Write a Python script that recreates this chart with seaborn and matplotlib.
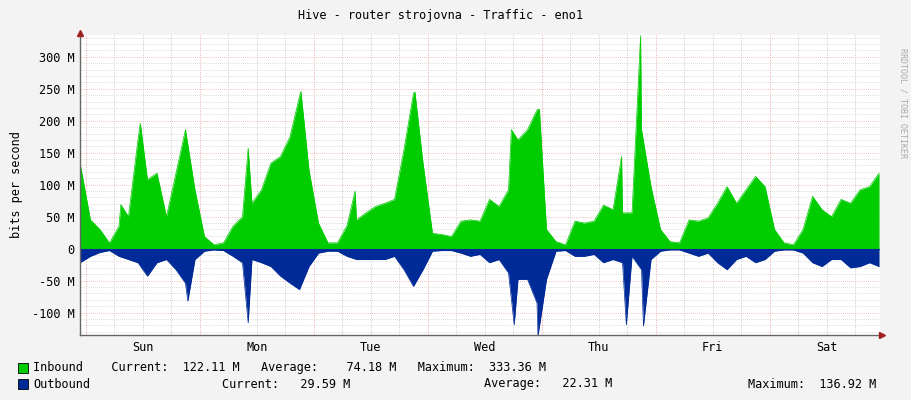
import matplotlib
matplotlib.use("Agg")
import matplotlib.pyplot as plt
import seaborn as sns
import pandas as pd

in_hours = [-1.2, 1, 3, 5, 7, 7.4, 9, 11, 11.5, 13, 15, 17, 19, 21, 23, 25, 27, 29, 31, 33, 34.2, 35, 37, 39, 41, 43, 45, 45.3, 47, 49, 51, 53, 55,
            56.7, 57, 59, 61, 63, 65, 67, 69, 69.3, 71, 73, 75, 77, 79, 81, 83, 85, 87, 89, 89.6, 91, 93, 95, 95.5, 97, 99, 101, 103, 105, 107,
            109, 111, 112.8, 113, 115, 116.8, 117, 119, 121, 123, 125, 127, 129, 131, 133, 135, 137, 139, 141, 143, 145, 147, 149, 151, 153,
            155, 157, 159, 161, 163, 165, 167]
in_vals = [134, 45, 30, 9, 35, 69, 50, 170, 196, 108, 118, 50, 118, 186, 92, 19, 6, 9, 35, 50, 157, 71, 92, 134, 144, 175, 238, 246, 123, 40, 9, 9, 36,
           90, 45, 56, 66, 71, 77, 155, 243, 245, 134, 24, 22, 19, 43, 45, 43, 77, 66, 92, 186, 170, 186, 217, 218, 30, 11, 6, 43, 40, 43,
           68, 61, 144, 56, 56, 333, 186, 97, 30, 11, 9, 45, 43, 48, 71, 97, 71, 92, 113, 97, 30, 9, 6, 30, 82,
           61, 50, 77, 71, 92, 97, 118]
out_hours = [-1.2, 1, 3, 5, 7, 9, 11, 13, 15, 17, 19, 21, 21.5, 23, 25, 27, 29, 31, 33, 34.2, 35, 37, 39, 41, 43, 45, 47, 49, 51, 53, 55,
             57, 59, 61, 63, 65, 67, 69, 71, 73, 75, 77, 79, 81, 83, 85, 87, 89, 90.2, 91, 93, 95, 95.2, 97, 99, 101, 103, 105, 107,
             109, 111, 113, 113.8, 115, 117, 117.4, 119, 121, 123, 125, 127, 129, 131, 133, 135, 137, 139, 141, 143, 145, 147, 149, 151, 153,
             155, 157, 159, 161, 163, 165, 167]
out_vals = [22, 12, 6, 3, 12, 17, 22, 43, 22, 17, 33, 54, 82, 17, 4, 2, 3, 12, 22, 116, 17, 22, 28, 43, 54, 64, 28, 7, 4, 4, 12,
            17, 17, 17, 17, 12, 33, 59, 33, 4, 3, 3, 7, 12, 9, 22, 17, 38, 119, 48, 48, 85, 137, 48, 4, 3, 12, 12, 9,
            22, 17, 22, 119, 12, 33, 121, 17, 4, 2, 2, 7, 12, 7, 22, 33, 17, 12, 22, 17, 4, 2, 2, 7, 22,
            28, 17, 17, 30, 28, 22, 28]
day_labels = ["Sun", "Mon", "Tue", "Wed", "Thu", "Fri", "Sat"]
y_ticks = [-100, -50, 0, 50, 100, 150, 200, 250, 300]

dfi = pd.DataFrame({"h": in_hours, "v": in_vals})
dfo = pd.DataFrame({"h": out_hours, "v": [-v for v in out_vals]})

FS = 8.6
fig = plt.figure(figsize=(9.11, 4.0), dpi=100, facecolor="#F3F3F3")
ax = fig.add_axes([80/911, 65/400, 800/911, 300/400])
ax.set_facecolor("white")
xmin, xmax = -1.2, 167.2
ax.set_xlim(xmin, xmax)
ax.set_ylim(-135, 334)

for y in range(-130, 335, 10):
    ax.axhline(y, color="#D0D0D0" if y % 50 else "#F0A8A8", lw=0.6, ls=(0, (1, 1.5)), zorder=0)
for h in range(0, 168, 6):
    ax.axvline(h, color="#C8C8C8" if h % 24 else "#F0A8A8", lw=0.7, ls=(0, (1, 1.5)), zorder=0)

sns.lineplot(data=dfi, x="h", y="v", ax=ax, color="#00CC00", lw=0.5)
sns.lineplot(data=dfo, x="h", y="v", ax=ax, color="#002A97", lw=0.5)
ax.fill_between(dfi["h"], 0, dfi["v"], color="#00CC00", lw=0, zorder=2)
ax.fill_between(dfo["h"], 0, dfo["v"], color="#002A97", lw=0, zorder=2)
ax.axhline(0, color="#002A97", lw=0.8, zorder=3)

for s in ax.spines.values():
    s.set_visible(False)
ax.axhline(-135, color="#666666", lw=1, zorder=4, clip_on=False)
ax.axvline(xmin, color="#666666", lw=1, zorder=4, clip_on=False)
ax.plot([xmax + 0.5], [-135], marker=">", color="#A02020", ms=5, clip_on=False, zorder=5)
ax.plot([xmin], [337], marker="^", color="#A02020", ms=5, clip_on=False, zorder=5)

ax.set_xticks([12 + 24*i for i in range(7)])
ax.set_xticklabels(day_labels, fontfamily="DejaVu Sans Mono", fontsize=FS)
ax.set_yticks(y_ticks)
ax.set_yticklabels([f"{v} M" if v else "0" for v in y_ticks], fontfamily="DejaVu Sans Mono", fontsize=FS)
ax.tick_params(length=0, pad=4)
ax.set_xlabel("")
ax.set_ylabel("bits per second", fontfamily="DejaVu Sans Mono", fontsize=FS, labelpad=6)

mono = dict(fontfamily="DejaVu Sans Mono", fontsize=FS, color="black")
fig.text(441/911, 1 - 15/400, "Hive - router strojovna - Traffic - eno1", ha="center", va="center", **mono)
fig.text(903/911, 0.88, "RRDTOOL / TOBI OETIKER", rotation=270, ha="center", va="top",
         fontfamily="DejaVu Sans Mono", fontsize=6, color="#AAAAAA")
for yy, c in [(368, "#00CC00"), (384, "#002A97")]:
    fig.patches.append(plt.Rectangle((18/911, 1 - (yy + 5)/400), 10/911, 10/400, transform=fig.transFigure,
                                     facecolor=c, edgecolor="black", lw=0.6))
fig.text(33/911, 1 - 368/400, "Inbound    Current:  122.11 M   Average:    74.18 M   Maximum:  333.36 M", va="center", **mono)
fig.text(33/911, 1 - 384/400, "Outbound", va="center", **mono)
fig.text(222/911, 1 - 384/400, "Current:   29.59 M", va="center", **mono)
fig.text(484/911, 1 - 384/400, "Average:   22.31 M", va="center", **mono)
fig.text(748/911, 1 - 384/400, "Maximum:  136.92 M", va="center", **mono)

fig.savefig("out.png", dpi=100, facecolor=fig.get_facecolor())
